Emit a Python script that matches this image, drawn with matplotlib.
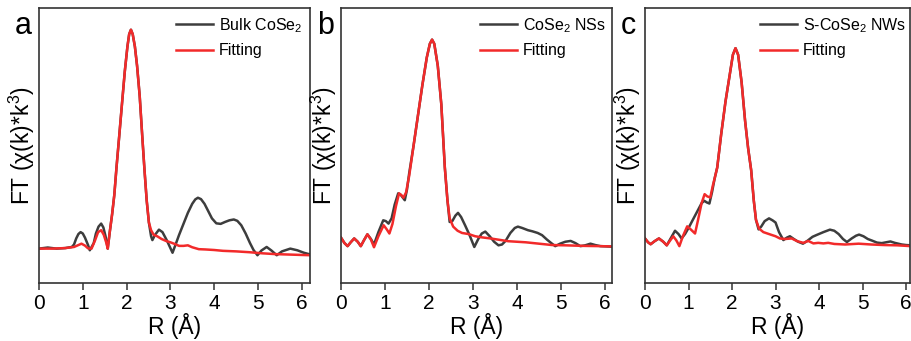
import matplotlib
matplotlib.use("Agg")
import matplotlib.pyplot as plt

plt.rcParams['font.family'] = ['Liberation Sans', 'DejaVu Sans']
plt.rcParams['mathtext.fontset'] = 'custom'
plt.rcParams['mathtext.rm'] = 'Liberation Sans'
plt.rcParams['mathtext.it'] = 'Liberation Sans:italic'

# --- bulk CoSe2 ---
r_bulk = [0.00, 0.20, 0.40, 0.60, 0.75, 0.80, 0.85, 0.90, 0.95, 1.00, 1.05, 1.12, 1.16,
          1.25, 1.30, 1.36, 1.42, 1.47, 1.52, 1.57, 1.62, 1.67, 1.72, 1.77, 1.83, 1.90,
          1.96, 2.02, 2.06, 2.10, 2.14, 2.19, 2.24, 2.30, 2.36, 2.41, 2.46, 2.51, 2.56,
          2.59, 2.65, 2.74, 2.82, 2.92, 3.05, 3.12, 3.20, 3.30, 3.40, 3.50, 3.57, 3.63,
          3.70, 3.78, 3.87, 3.95, 4.05, 4.15, 4.25, 4.35, 4.45, 4.53, 4.62, 4.72, 4.82,
          4.90, 4.99, 5.08, 5.20, 5.31, 5.43, 5.55, 5.74, 5.90, 6.05, 6.19]
ft_bulk = [1.25, 1.29, 1.25, 1.27, 1.31, 1.40, 1.62, 1.78, 1.85, 1.80, 1.65, 1.38, 1.19,
           1.45, 1.80, 2.05, 2.16, 2.02, 1.70, 1.25, 1.90, 2.50, 3.20, 4.20, 5.30, 6.60,
           7.70, 8.60, 9.05, 9.21, 9.05, 8.60, 7.90, 6.80, 5.30, 4.10, 3.00, 2.20, 1.70,
           1.56, 1.75, 1.94, 1.85, 1.55, 1.10, 1.40, 1.75, 2.15, 2.55, 2.88, 3.04, 3.10,
           3.05, 2.88, 2.60, 2.35, 2.17, 2.15, 2.22, 2.28, 2.31, 2.26, 2.10, 1.80, 1.45,
           1.20, 1.01, 1.18, 1.31, 1.18, 1.01, 1.15, 1.25, 1.19, 1.10, 1.04]
r_bulk_fit = [0.00, 0.30, 0.60, 0.80, 0.90, 0.97, 1.05, 1.12, 1.20, 1.28, 1.35, 1.42,
              1.48, 1.54, 1.57, 1.62, 1.67, 1.72, 1.77, 1.83, 1.90, 1.96, 2.02, 2.06,
              2.10, 2.14, 2.19, 2.24, 2.30, 2.36, 2.41, 2.46, 2.51, 2.56, 2.62, 2.70,
              2.80, 2.90, 3.00, 3.10, 3.20, 3.30, 3.40, 3.50, 3.65, 3.80, 4.00, 4.20,
              4.50, 4.80, 5.10, 5.40, 5.80, 6.19]
ft_bulk_fit = [1.25, 1.25, 1.27, 1.31, 1.38, 1.43, 1.36, 1.26, 1.25, 1.55, 1.85, 1.92,
               1.75, 1.45, 1.25, 1.90, 2.50, 3.20, 4.20, 5.30, 6.60, 7.70, 8.60, 9.05,
               9.21, 9.05, 8.60, 7.90, 6.80, 5.30, 4.10, 3.00, 2.20, 1.92, 1.75, 1.70,
               1.60, 1.53, 1.48, 1.42, 1.35, 1.35, 1.37, 1.30, 1.23, 1.22, 1.20, 1.17,
               1.15, 1.12, 1.08, 1.05, 1.03, 1.01]

# --- CoSe2 nanosheets ---
r_ns = [0.00, 0.08, 0.15, 0.22, 0.30, 0.38, 0.45, 0.52, 0.60, 0.68, 0.75, 0.85, 0.96,
        1.02, 1.08, 1.15, 1.22, 1.30, 1.36, 1.45, 1.50, 1.55, 1.65, 1.75, 1.85, 1.95,
        2.02, 2.07, 2.12, 2.20, 2.28, 2.36, 2.42, 2.47, 2.53, 2.60, 2.66, 2.73, 2.82,
        2.92, 3.03, 3.12, 3.20, 3.28, 3.38, 3.48, 3.58, 3.66, 3.74, 3.85, 3.95, 4.02,
        4.12, 4.25, 4.35, 4.47, 4.57, 4.68, 4.78, 4.87, 4.98, 5.10, 5.22, 5.33, 5.44,
        5.55, 5.67, 5.78, 5.90, 6.05, 6.16]
ft_ns = [1.65, 1.45, 1.34, 1.48, 1.62, 1.50, 1.34, 1.55, 1.77, 1.60, 1.40, 1.85, 2.28,
         2.25, 2.16, 2.35, 2.85, 3.26, 3.20, 3.01, 3.40, 3.99, 5.00, 6.10, 7.20, 8.20,
         8.70, 8.85, 8.70, 7.90, 6.50, 4.20, 3.00, 2.22, 2.25, 2.45, 2.55, 2.40, 2.10,
         1.75, 1.31, 1.60, 1.80, 1.87, 1.70, 1.50, 1.37, 1.40, 1.53, 1.82, 2.00, 2.05,
         2.00, 1.92, 1.88, 1.82, 1.74, 1.58, 1.45, 1.34, 1.43, 1.50, 1.53, 1.45, 1.34,
         1.37, 1.43, 1.38, 1.34, 1.33, 1.32]
r_ns_fit = [0.00, 0.08, 0.15, 0.22, 0.30, 0.38, 0.45, 0.52, 0.60, 0.68, 0.75, 0.85,
            0.97, 1.04, 1.10, 1.17, 1.25, 1.32, 1.37, 1.42, 1.48, 1.55, 1.65, 1.75,
            1.85, 1.95, 2.02, 2.07, 2.12, 2.20, 2.28, 2.36, 2.42, 2.47, 2.55, 2.65,
            2.75, 2.90, 3.05, 3.20, 3.40, 3.60, 3.80, 4.00, 4.20, 4.50, 4.80, 5.10,
            5.50, 5.90, 6.16]
ft_ns_fit = [1.65, 1.45, 1.34, 1.48, 1.62, 1.50, 1.34, 1.55, 1.77, 1.58, 1.30, 1.70,
             2.10, 1.95, 1.80, 2.15, 2.80, 3.26, 3.20, 3.10, 3.30, 3.90, 5.00, 6.10,
             7.20, 8.20, 8.70, 8.85, 8.70, 7.90, 6.50, 4.20, 3.00, 2.35, 2.05, 1.90,
             1.82, 1.78, 1.70, 1.66, 1.62, 1.57, 1.52, 1.50, 1.48, 1.43, 1.38, 1.37,
             1.35, 1.34, 1.33]

# --- S-doped CoSe2 nanowires ---
r_nw = [0.00, 0.07, 0.13, 0.22, 0.32, 0.42, 0.50, 0.60, 0.69, 0.77, 0.84, 0.92, 1.00,
        1.10, 1.20, 1.30, 1.36, 1.42, 1.48, 1.54, 1.60, 1.66, 1.75, 1.85, 1.95, 2.02,
        2.08, 2.14, 2.22, 2.30, 2.37, 2.44, 2.50, 2.55, 2.61, 2.67, 2.75, 2.85, 2.93,
        3.00, 3.08, 3.18, 3.26, 3.33, 3.42, 3.52, 3.63, 3.72, 3.85, 3.95, 4.10, 4.25,
        4.35, 4.45, 4.55, 4.64, 4.75, 4.85, 4.92, 5.02, 5.12, 5.22, 5.33, 5.44, 5.54,
        5.64, 5.74, 5.90, 6.00, 6.11]
ft_nw = [1.62, 1.48, 1.41, 1.52, 1.62, 1.50, 1.37, 1.65, 1.90, 1.78, 1.62, 1.78, 2.00,
         2.30, 2.60, 2.90, 2.99, 2.93, 2.89, 3.30, 3.80, 4.20, 5.40, 6.60, 7.60, 8.30,
         8.54, 8.30, 7.30, 5.90, 4.90, 4.10, 3.00, 2.30, 1.95, 2.05, 2.25, 2.35, 2.28,
         2.20, 1.85, 1.56, 1.65, 1.70, 1.60, 1.50, 1.43, 1.52, 1.68, 1.75, 1.85, 1.94,
         1.90, 1.78, 1.60, 1.49, 1.62, 1.72, 1.76, 1.70, 1.60, 1.54, 1.47, 1.45, 1.48,
         1.51, 1.46, 1.40, 1.38, 1.37]
r_nw_fit = [0.00, 0.07, 0.13, 0.22, 0.32, 0.42, 0.50, 0.58, 0.65, 0.72, 0.79, 0.87,
            0.97, 1.05, 1.15, 1.22, 1.30, 1.37, 1.43, 1.50, 1.56, 1.60, 1.66, 1.75,
            1.85, 1.95, 2.02, 2.08, 2.14, 2.22, 2.30, 2.37, 2.44, 2.50, 2.55, 2.62,
            2.72, 2.85, 3.00, 3.10, 3.22, 3.37, 3.50, 3.64, 3.75, 3.87, 3.98, 4.10,
            4.21, 4.35, 4.60, 4.91, 5.20, 5.50, 5.80, 6.11]
ft_nw_fit = [1.62, 1.48, 1.41, 1.52, 1.62, 1.50, 1.37, 1.55, 1.70, 1.55, 1.34, 1.70,
             2.06, 1.95, 1.80, 2.30, 2.90, 3.23, 3.15, 3.11, 3.55, 3.80, 4.20, 5.40,
             6.60, 7.60, 8.30, 8.54, 8.30, 7.30, 5.90, 4.90, 4.10, 3.00, 2.30, 1.98,
             1.85, 1.78, 1.70, 1.62, 1.60, 1.62, 1.52, 1.46, 1.53, 1.44, 1.46, 1.44,
             1.46, 1.42, 1.40, 1.43, 1.40, 1.38, 1.37, 1.34]

panels = [
    ('a', 'Bulk CoSe$_2$', r_bulk, ft_bulk, r_bulk_fit, ft_bulk_fit,
     [39, 271], 6.19, 0.476),
    ('b', 'CoSe$_2$ NSs', r_ns, ft_ns, r_ns_fit, ft_ns_fit,
     [341, 271], 6.16, 0.483),
    ('c', 'S-CoSe$_2$ NWs', r_nw, ft_nw, r_nw_fit, ft_nw_fit,
     [645, 265], 6.09, 0.404),
]

W, H = 911, 341
fig = plt.figure(figsize=(W / 100, H / 100), dpi=100)

for letter, name, r, ft, rf, ftf, (x0, w), xmax, leg_x in panels:
    ax = fig.add_axes([x0 / W, (H - 283) / H, w / W, 275 / H])
    ax.plot(r, ft, color='#3d3d3d', lw=1.8, label=name)
    ax.plot(rf, ftf, color='#f22a2a', lw=1.8, label='Fitting')

    ax.set_xlim(0, xmax)
    ax.set_ylim(0, 10)
    ax.set_xticks(range(7))
    ax.set_yticks([])
    ax.tick_params(axis='x', direction='out', length=5, width=1.1,
                   labelsize=15, pad=3, color='#333333')
    for sp in ax.spines.values():
        sp.set_linewidth(1.2)
        sp.set_color('#333333')

    ax.set_xlabel('R (Å)', fontsize=16.5, labelpad=0)
    ax.set_ylabel('FT (χ(k)*k$^3$)', fontsize=16.5)
    ax.yaxis.set_label_coords(-0.008, 0.5)

    ax.text(-0.09, 0.905, letter, transform=ax.transAxes, fontsize=22,
            ha='left', va='baseline')

    ax.legend(loc='upper left', bbox_to_anchor=(leg_x, 1.0), frameon=False,
              fontsize=11.5, handlelength=2.3, handletextpad=0.37,
              labelspacing=0.55, borderaxespad=0, borderpad=0.5)

fig.savefig('out.png', dpi=100)
